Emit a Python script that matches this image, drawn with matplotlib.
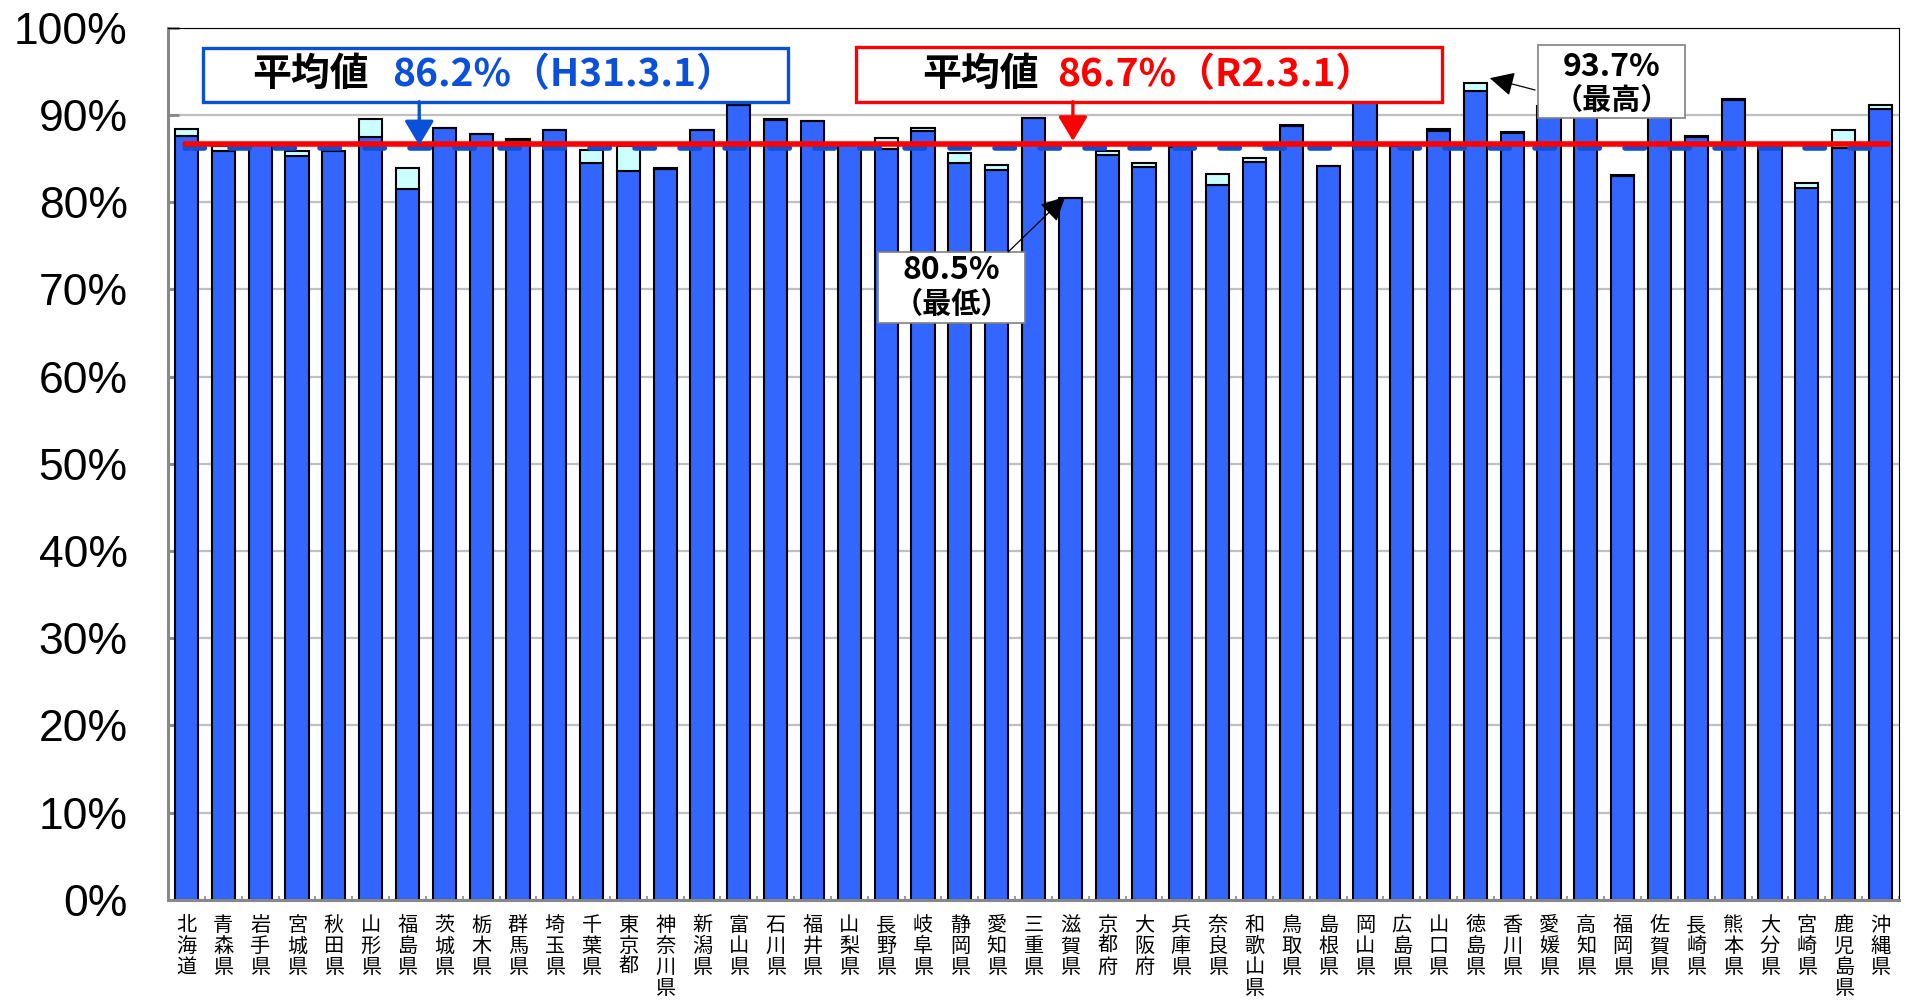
import matplotlib
matplotlib.use("Agg")
import matplotlib.pyplot as plt
import numpy as np
from matplotlib.patches import Rectangle
from matplotlib.ticker import FixedLocator, PercentFormatter

plt.rcParams["lines.scale_dashes"] = False

prefs = [
    "北海道", "青森県", "岩手県", "宮城県", "秋田県", "山形県", "福島県", "茨城県",
    "栃木県", "群馬県", "埼玉県", "千葉県", "東京都", "神奈川県", "新潟県", "富山県",
    "石川県", "福井県", "山梨県", "長野県", "岐阜県", "静岡県", "愛知県", "三重県",
    "滋賀県", "京都府", "大阪府", "兵庫県", "奈良県", "和歌山県", "鳥取県", "島根県",
    "岡山県", "広島県", "山口県", "徳島県", "香川県", "愛媛県", "高知県", "福岡県",
    "佐賀県", "長崎県", "熊本県", "大分県", "宮崎県", "鹿児島県", "沖縄県",
]

# H31.3.1 (blue) and R2.3.1 (total incl. light cyan increase), %
h31 = [
    87.6, 85.8, 86.5, 85.3, 85.8, 87.4, 81.5, 88.5,
    87.8, 87.1, 88.2, 84.5, 83.5, 83.8, 88.3, 91.1,
    89.4, 89.3, 86.6, 86.1, 88.1, 84.5, 83.7, 89.6,
    80.5, 85.4, 84.0, 86.3, 81.9, 84.6, 88.7, 84.1,
    92.0, 86.4, 88.1, 92.7, 87.9, 91.0, 90.5, 83.0,
    90.3, 87.5, 91.7, 86.5, 81.6, 86.2, 90.7,
]
r2 = [
    88.4, 86.4, 86.5, 85.8, 85.9, 89.5, 83.9, 88.5,
    87.8, 87.2, 88.2, 86.0, 86.4, 83.9, 88.3, 91.2,
    89.5, 89.3, 86.6, 87.3, 88.5, 85.6, 84.2, 89.6,
    80.5, 85.9, 84.5, 86.3, 83.2, 85.1, 88.8, 84.1,
    92.0, 86.4, 88.4, 93.7, 88.0, 91.0, 90.5, 83.1,
    90.3, 87.6, 91.8, 86.5, 82.2, 88.2, 91.1,
]
avg_h31 = 86.2
avg_r2 = 86.7
y_ticks = [0, 10, 20, 30, 40, 50, 60, 70, 80, 90, 100]

jp = ["Noto Sans CJK JP", "DejaVu Sans"]
BLUE = "#3366FF"
CYAN = "#CCFFFF"
DBLUE = "#0A50D8"
RED = "#FF0000"

fig = plt.figure(figsize=(19.1, 10.05), dpi=100)
ax = fig.add_axes([0.088, 0.1045, 0.9062, 0.8681])

x = np.arange(len(prefs))
h31 = np.array(h31)
r2 = np.array(r2)
ax.bar(x, h31, width=0.63, color=BLUE, edgecolor="black", linewidth=1.5, zorder=2)
ax.bar(x, r2 - h31, bottom=h31, width=0.63, color=CYAN, edgecolor="black",
       linewidth=1.5, zorder=2)

# average lines
ax.plot([-0.04, 46.2], [avg_h31, avg_h31], color=DBLUE, lw=4, zorder=3,
        solid_capstyle="round", dash_capstyle="round", linestyle=(0, (14, 18.4)))
ax.plot([-0.04, 46.2], [avg_r2, avg_r2], color=RED, lw=4, zorder=4,
        solid_capstyle="round")

ax.set_xlim(-0.5, len(prefs) - 0.5)
ax.set_ylim(0, 100)
ax.yaxis.set_major_locator(FixedLocator(y_ticks))
ax.yaxis.set_major_formatter(PercentFormatter(decimals=0))
ax.set_axisbelow(True)
ax.yaxis.grid(True, color="#BFBFBF", lw=1.6)

ax.set_xticks(x)
ax.set_xticklabels(["\n".join(p) for p in prefs], family=jp, fontsize=14.5,
                   linespacing=1.0, va="top")
ax.set_xticks(np.arange(len(prefs) + 1) - 0.5, minor=True)
ax.tick_params(axis="x", which="major", length=0, pad=11)
ax.tick_params(axis="x", which="minor", direction="in", length=3, width=1.2,
               color="#888888")
ax.tick_params(axis="y", direction="in", length=8, width=2, color="#888888",
               labelsize=32, pad=29)
for lab in ax.get_yticklabels():
    lab.set_family("Liberation Sans")

for s in ("left", "bottom"):
    ax.spines[s].set_color("#888888")
    ax.spines[s].set_linewidth(2.2)
for s in ("top", "right"):
    ax.spines[s].set_color("black")
    ax.spines[s].set_linewidth(0.8)

# average boxes
ax.add_patch(Rectangle((0.45, 91.5), 15.88, 6.15, fill=True, facecolor="white",
                       edgecolor=DBLUE, lw=2.4, zorder=5))
ax.text(1.78, 94.6, "平均値", family=jp, fontsize=28, fontweight="bold",
        color="black", va="center", ha="left", zorder=6)
ax.text(5.58, 94.6, "86.2%（H31.3.1）", family=jp, fontsize=28, fontweight="bold",
        color=DBLUE, va="center", ha="left", zorder=6)
ax.annotate("", xy=(6.32, 86.5), xytext=(6.32, 91.5),
            arrowprops=dict(arrowstyle="-|>,head_length=0.5,head_width=0.3",
                            color=DBLUE, lw=2.4, mutation_scale=30,
                            shrinkA=0, shrinkB=0), zorder=6)

ax.add_patch(Rectangle((18.18, 91.5), 15.91, 6.3, fill=True, facecolor="white",
                       edgecolor=RED, lw=2.4, zorder=5))
ax.text(19.97, 94.6, "平均値", family=jp, fontsize=28, fontweight="bold",
        color="black", va="center", ha="left", zorder=6)
ax.text(23.64, 94.6, "86.7%（R2.3.1）", family=jp, fontsize=28, fontweight="bold",
        color=RED, va="center", ha="left", zorder=6)
ax.annotate("", xy=(24.07, 87.0), xytext=(24.07, 91.5),
            arrowprops=dict(arrowstyle="-|>,head_length=0.5,head_width=0.3",
                            color=RED, lw=2.4, mutation_scale=30,
                            shrinkA=0, shrinkB=0), zorder=6)

# min / max callouts
ax.add_patch(Rectangle((18.78, 66.1), 3.99, 8.17, facecolor="white",
                       edgecolor="#808080", lw=1.2, zorder=5))
ax.text(20.78, 72.2, "80.5%", family=jp, fontsize=23, fontweight="bold",
        ha="center", va="center", zorder=6)
ax.text(20.78, 68.3, "（最低）", family=jp, fontsize=21, fontweight="bold",
        ha="center", va="center", zorder=6)
ax.annotate("", xy=(23.86, 80.6), xytext=(22.31, 74.27),
            arrowprops=dict(arrowstyle="-|>,head_length=0.6,head_width=0.3",
                            color="black", lw=0.9, mutation_scale=25,
                            shrinkA=0, shrinkB=0), zorder=6)

ax.add_patch(Rectangle((36.7, 89.6), 4.0, 8.4, facecolor="white",
                       edgecolor="#808080", lw=1.2, zorder=5))
ax.text(38.7, 95.5, "93.7%", family=jp, fontsize=23, fontweight="bold",
        ha="center", va="center", zorder=6)
ax.text(38.7, 91.7, "（最高）", family=jp, fontsize=21, fontweight="bold",
        ha="center", va="center", zorder=6)
ax.annotate("", xy=(35.39, 94.2), xytext=(36.62, 92.84),
            arrowprops=dict(arrowstyle="-|>,head_length=0.6,head_width=0.3",
                            color="black", lw=0.9, mutation_scale=25,
                            shrinkA=0, shrinkB=0), zorder=6)

fig.savefig("out.png", dpi=100)
